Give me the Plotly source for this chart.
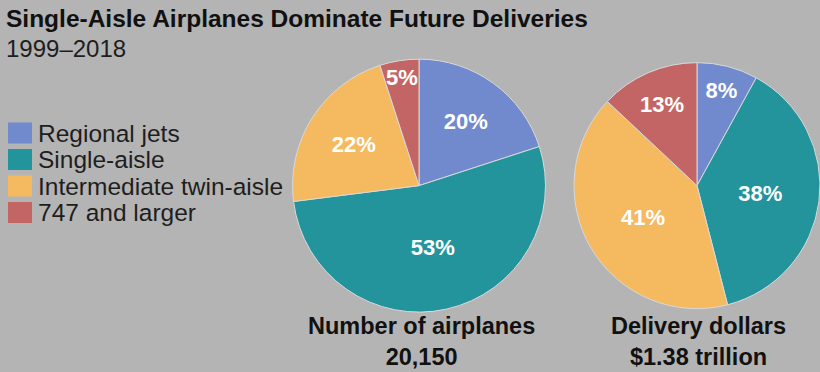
import plotly.graph_objects as go

categories = ["Regional jets", "Single-aisle", "Intermediate twin-aisle", "747 and larger"]
airplanes_pct = [20, 53, 22, 5]
dollars_pct = [8, 38, 41, 13]
colors = ["#7189cd", "#23949b", "#f5b95f", "#c46565"]

title = "Single-Aisle Airplanes Dominate Future Deliveries"
subtitle = "1999\u20132018"
pie1_caption = ["Number of airplanes", "20,150"]
pie2_caption = ["Delivery dollars", "$1.38 trillion"]

FONT = "Liberation Sans, Arial, sans-serif"
BG = "#b4b4b4"
W, H = 820, 372


def px(x):
    return x / W


def py(y):
    return 1 - y / H


fig = go.Figure()

common = dict(
    labels=categories,
    sort=False,
    direction="clockwise",
    rotation=0,
    marker=dict(colors=colors, line=dict(color="#d9d9d9", width=1)),
    textinfo="text",
    textposition="inside",
    insidetextorientation="horizontal",
    textfont=dict(color="white", size=22, family=FONT, weight="bold"),
    hoverinfo="label+percent",
    showlegend=False,
)

fig.add_trace(go.Pie(values=airplanes_pct, text=[f"{v}%" for v in airplanes_pct],
                     domain=dict(x=[0.356, 0.666], y=[0.161, 0.841]), **common))
fig.add_trace(go.Pie(values=dollars_pct, text=[f"{v}%" for v in dollars_pct],
                     domain=dict(x=[0.700, 1.0], y=[0.161, 0.841]), **common))

ann = []
shapes = []
ann.append(dict(text=f"<b>{title}</b>", x=px(4), y=py(19), xref="paper", yref="paper",
                xanchor="left", yanchor="middle", showarrow=False,
                font=dict(size=24.5, color="#111111", family=FONT)))
ann.append(dict(text=subtitle, x=px(4), y=py(48), xref="paper", yref="paper",
                xanchor="left", yanchor="middle", showarrow=False,
                font=dict(size=24, color="#1e1e1e", family=FONT)))

# legend built from categories/colors
for i, (cat, col) in enumerate(zip(categories, colors)):
    yc = 133 + i * 26.5
    shapes.append(dict(type="rect", xref="paper", yref="paper",
                       x0=px(8), x1=px(32), y0=py(yc - 10.5), y1=py(yc + 10.5),
                       fillcolor=col, line=dict(width=0)))
    ann.append(dict(text=cat, x=px(36), y=py(yc), xref="paper", yref="paper",
                    xanchor="left", yanchor="middle", showarrow=False,
                    font=dict(size=24.5, color="#1e1e1e", family=FONT)))

for cx, cap in [(421, pie1_caption), (698, pie2_caption)]:
    ann.append(dict(text="<b>" + "<br>".join(cap) + "</b>", x=px(cx), y=0.0,
                    xref="paper", yref="paper", xanchor="center", yanchor="bottom",
                    showarrow=False, font=dict(size=23.5, color="#111111", family=FONT)))

fig.update_layout(
    width=W, height=H,
    margin=dict(l=0, r=0, t=0, b=0),
    paper_bgcolor=BG, plot_bgcolor=BG,
    annotations=ann,
    shapes=shapes,
    uniformtext=dict(minsize=20, mode="show"),
    showlegend=False,
)

fig.write_html("out.html")
